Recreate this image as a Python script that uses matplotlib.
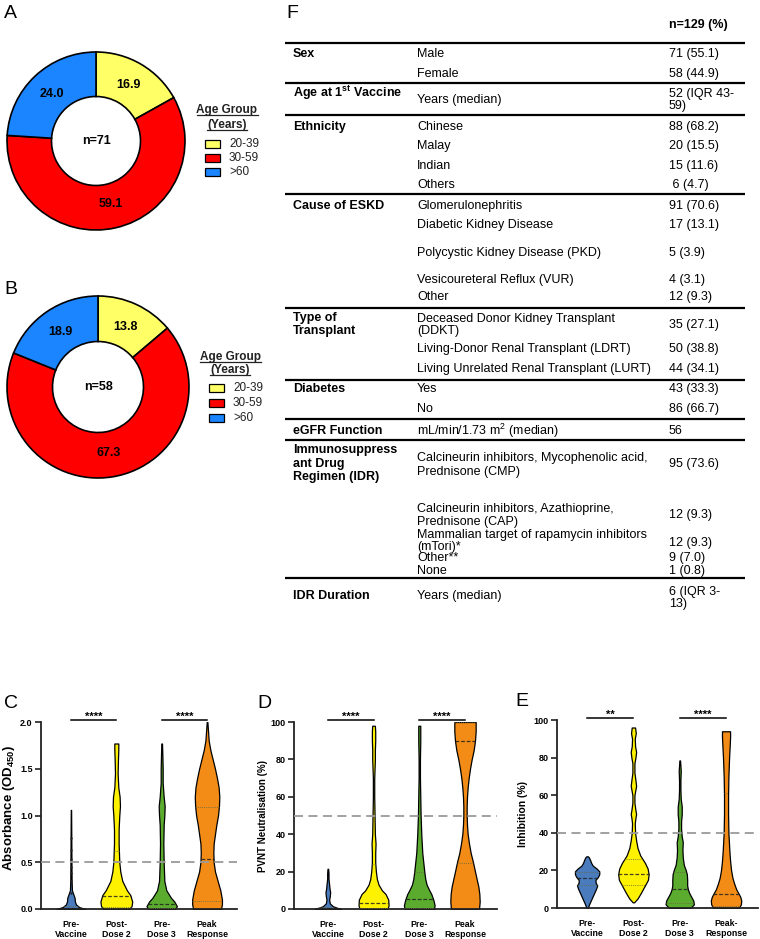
import numpy as np
import matplotlib
matplotlib.use('Agg')
import matplotlib.pyplot as plt
from matplotlib.patches import Rectangle
from matplotlib.transforms import blended_transform_factory

plt.rcParams['font.family'] = ['Liberation Sans', 'DejaVu Sans']
plt.rcParams['mathtext.fontset'] = 'custom'
plt.rcParams['mathtext.rm'] = 'Liberation Sans'
plt.rcParams['mathtext.it'] = 'Liberation Sans:italic'
plt.rcParams['mathtext.bf'] = 'Liberation Sans:bold'

#-----------------------------------------------------
# data: donuts
age_groups = ['20-39', '30-59', '>60']
pie_a_pct = [16.9, 59.1, 24.0]
pie_a_n = 71
pie_b_pct = [13.8, 67.3, 18.9]
pie_b_n = 58

# data: table F
table_header = 'n=129 (%)'
table_sections = ['Sex', 'Age at 1$^{\\mathbf{st}}$ Vaccine', 'Ethnicity', 'Cause of ESKD',
                  'Type of\nTransplant', 'Diabetes', 'eGFR Function',
                  'Immunosuppress\nant Drug\nRegimen (IDR)', 'IDR Duration']
table_items = [
    ['Male', 'Female'],
    ['Years (median)'],
    ['Chinese', 'Malay', 'Indian', 'Others'],
    ['Glomerulonephritis', 'Diabetic Kidney Disease', 'Polycystic Kidney Disease (PKD)',
     'Vesicoureteral Reflux (VUR)', 'Other'],
    ['Deceased Donor Kidney Transplant\n(DDKT)', 'Living-Donor Renal Transplant (LDRT)',
     'Living Unrelated Renal Transplant (LURT)'],
    ['Yes', 'No'],
    ['mL/min/1.73 m$^2$ (median)'],
    ['Calcineurin inhibitors, Mycophenolic acid,\nPrednisone (CMP)',
     'Calcineurin inhibitors, Azathioprine,\nPrednisone (CAP)',
     'Mammalian target of rapamycin inhibitors\n(mTori)*', 'Other**', 'None'],
    ['Years (median)'],
]
table_values = [
    ['71 (55.1)', '58 (44.9)'],
    ['52 (IQR 43-\n59)'],
    ['88 (68.2)', '20 (15.5)', '15 (11.6)', ' 6 (4.7)'],
    ['91 (70.6)', '17 (13.1)', '5 (3.9)', '4 (3.1)', '12 (9.3)'],
    ['35 (27.1)', '50 (38.8)', '44 (34.1)'],
    ['43 (33.3)', '86 (66.7)'],
    ['56'],
    ['95 (73.6)', '12 (9.3)', '12 (9.3)', '9 (7.0)', '1 (0.8)'],
    ['6 (IQR 3-\n13)'],
]

# data: violins (y level, relative half width), quartiles (Q1, median, Q3)
timepoints = ['Pre-\nVaccine', 'Post-\nDose 2', 'Pre-\nDose 3', 'Peak\nResponse']
timepoints_e = ['Pre-\nVaccine', 'Post-\nDose 2', 'Pre-\nDose 3', 'Peak-\nResponse']

c_pre_y = [0, 0.02, 0.05, 0.08, 0.12, 0.15, 0.2, 0.3, 0.5, 0.8, 1.06]
c_pre_w = [44, 25, 15, 12, 11, 8, 3, 2, 1.5, 1, 0.5]
c_post2_y = [0, 0.03, 0.08, 0.15, 0.2, 0.3, 0.4, 0.5, 0.6, 0.7, 0.85, 1.0, 1.1, 1.2, 1.3, 1.45, 1.6, 1.7, 1.77]
c_post2_w = [38, 46, 48, 42, 32, 18, 12, 9, 8, 7, 7, 9, 11, 10, 6, 4, 5, 6, 6]
c_pre3_y = [0, 0.03, 0.08, 0.12, 0.2, 0.3, 0.5, 0.7, 0.9, 1.0, 1.1, 1.2, 1.35, 1.5, 1.65, 1.77]
c_pre3_w = [40, 46, 38, 28, 14, 8, 6, 5, 6, 8, 9, 6, 3, 3, 2, 1]
c_peak_y = [0, 0.05, 0.1, 0.2, 0.3, 0.4, 0.5, 0.6, 0.7, 0.8, 0.9, 1.0, 1.1, 1.2, 1.3, 1.4, 1.5, 1.6, 1.7, 1.8, 1.9, 2.0]
c_peak_w = [42, 45, 45, 40, 32, 24, 20, 19, 20, 24, 28, 33, 36, 37, 35, 30, 24, 17, 10, 5, 3, 1]
c_quart = [(0.0, 0.01, 0.03), (0.02, 0.14, 0.62), (0.01, 0.05, 0.5), (0.09, 0.54, 1.09)]
c_pre_points = [0.17, 0.3, 0.38, 0.45, 0.54, 0.63, 0.76]

d_pre_y = [0, 0.5, 1.5, 3, 5, 7, 9, 11, 13, 16, 19, 21.5]
d_pre_w = [40, 30, 15, 6, 4, 6, 7, 5, 4, 2, 2, 1]
d_post2_y = [0, 2, 5, 8, 10, 13, 16, 20, 25, 30, 35, 40, 50, 60, 70, 80, 85, 90, 95, 98]
d_post2_w = [42, 45, 44, 36, 25, 15, 10, 7, 5, 5, 6, 4, 3, 2, 2, 4, 4, 5, 5, 4]
d_pre3_y = [0, 2, 5, 8, 10, 13, 16, 20, 25, 30, 40, 50, 60, 70, 80, 90, 98]
d_pre3_w = [44, 46, 42, 36, 30, 22, 18, 15, 12, 9, 6, 4, 3, 2, 2, 3, 3]
d_peak_y = [0, 4, 8, 12, 16, 20, 25, 30, 35, 40, 45, 50, 55, 60, 65, 70, 75, 80, 85, 90, 95, 100]
d_peak_w = [42, 44, 43, 40, 35, 30, 24, 17, 12, 8, 6, 5, 5, 6, 8, 11, 15, 20, 26, 30, 32, 32]
d_quart = [(0.0, 0.3, 1.0), (0.5, 3.4, 24), (0.5, 5.5, 20), (24.5, 90, 100)]

e_pre_y = [0, 2, 4, 6, 8, 10, 12, 13.5, 15, 16.5, 18, 19.5, 21, 22.5, 24, 25.5, 27, 27.5]
e_pre_w = [2, 6, 11, 16, 21, 26, 30, 25, 25, 32, 36, 36, 28, 17, 12, 9, 5, 2]
e_post2_y = [3, 5, 8, 10, 12, 15, 18, 21, 24, 26, 28, 32, 36, 40, 45, 48, 50, 52, 56, 60, 63, 65, 68,
             72, 77, 80, 83, 86, 90, 93, 96]
e_post2_w = [2, 12, 22, 28, 34, 43, 45, 42, 34, 27, 20, 12, 8, 5, 4, 6, 8, 6, 3, 3, 6, 8, 6,
             3, 3, 6, 8, 5, 4, 7, 5]
e_pre3_y = [0, 2, 4, 6, 8, 10, 12, 15, 18, 20, 23, 27, 31, 35, 38, 42, 46, 50, 54, 58, 63, 68, 73, 78.5]
e_pre3_w = [32, 42, 40, 34, 28, 24, 22, 22, 21, 18, 12, 9, 8, 9, 6, 4, 4, 6, 6, 3, 2, 2, 3, 1]
e_peak_y = [0, 2, 4, 6, 8, 10, 13, 16, 20, 25, 30, 40, 50, 60, 70, 80, 87, 91, 94]
e_peak_w = [38, 44, 45, 42, 36, 30, 24, 19, 15, 12, 10, 7, 6, 6, 7, 9, 11, 12, 12]
e_quart = [(12, 16, 19), (12, 18, 26), (2.7, 10, 19), (1, 7.4, 61)]

#-----------------------------------------------------
# styles
age_colors = ['#ffff66', '#ff0000', '#1b84ff']
vio_colors = ['#4a7bbd', '#fff200', '#5aab2e', '#f28c16']
WSCALE = 1 / 137.0
W, H = 760, 939

fig = plt.figure(figsize=(W / 100, H / 100), dpi=100)

def px_axes(x0, y0, x1, y1):
    return fig.add_axes([x0 / W, 1 - y1 / H, (x1 - x0) / W, (y1 - y0) / H])

ov = fig.add_axes([0, 0, 1, 1])
ov.set_xlim(0, W)
ov.set_ylim(H, 0)
ov.axis('off')

#-----------------------------------------------------
def donut(cx, cy, r, pct, n):
    m = 1.03
    ax = px_axes(cx - r * m, cy - r * m, cx + r * m, cy + r * m)
    wedges, _ = ax.pie(pct, colors=age_colors, startangle=90, counterclock=False, radius=1,
                       wedgeprops=dict(width=0.5, edgecolor='black', linewidth=1.2))
    for w, p in zip(wedges, pct):
        a = np.deg2rad((w.theta1 + w.theta2) / 2)
        ax.text(0.73 * np.cos(a), 0.73 * np.sin(a), '%.1f' % p, ha='center', va='center',
                fontweight='bold', fontsize=9)
    ax.text(0, 0, 'n=%i' % n, ha='center', va='center', fontweight='bold', fontsize=9)
    ax.set_xlim(-m, m)
    ax.set_ylim(-m, m)
    ax.set_aspect('equal')
    ax.axis('off')

def age_legend(xc, y_title, x_patch, y_rows):
    titles = []
    for txt, yy in zip(['Age Group', '(Years)'], y_title):
        titles.append(ov.text(xc, yy, txt, ha='center', va='center', fontweight='bold',
                              fontsize=8.5, color='#222222'))
    for lab, col, yy in zip(age_groups, age_colors, y_rows):
        ov.add_patch(Rectangle((x_patch, yy - 4), 15, 8, facecolor=col, edgecolor='black', lw=0.9))
        ov.text(x_patch + 24, yy, lab, ha='left', va='center', fontsize=8.5, color='#222222')
    return titles

donut(96, 141, 89, pie_a_pct, pie_a_n)
donut(98, 387, 91, pie_b_pct, pie_b_n)
under = age_legend(227, [110, 125], 205, [144, 158, 172])
under += age_legend(230, [357, 370], 209, [388, 403, 418])

for lab, x, y in [('A', 4, 14), ('B', 4, 290), ('F', 286, 13), ('C', 4, 703), ('D', 257, 704), ('E', 515, 702)]:
    ov.text(x, y, lab, ha='left', va='center', fontsize=14)

#-----------------------------------------------------
# table F
COL1, COL2, COL3 = 293, 417, 669
rule_y = [43, 83, 115, 194, 308, 380, 419, 440, 578]
sec_y = [54, 93, 127, 206, 324.5, 389, 431, 463.5, 596]
item_y = [[54, 74], [100], [127, 146, 166, 185], [206, 225, 253, 280, 297], [325, 349, 369],
          [389, 409], [431], [465, 515.5, 541, 558, 571], [596]]
value_y = [[54, 74], [100], [127, 146, 166, 185], [206, 225, 253, 280, 297], [325, 349, 369],
           [389, 409], [431], [464, 515, 543, 558, 571], [598]]
item_ls = [[1.1, 1.1], [1.1], [1.1] * 4, [1.1] * 5, [1.0, 1.1, 1.1], [1.1, 1.1], [1.1],
           [1.2, 1.2, 1.0, 1.1, 1.1], [1.1]]

ov.text(COL3, 25, table_header, ha='left', va='center', fontweight='bold', fontsize=9)
for yy in rule_y:
    ov.plot([285, 745], [yy, yy], color='black', lw=1.6, solid_capstyle='butt')
for s, sy, items, iy, ils, vals, vy in zip(table_sections, sec_y, table_items, item_y, item_ls,
                                           table_values, value_y):
    ov.text(COL1, sy, s, ha='left', va='center', fontweight='bold', fontsize=9, linespacing=1.15)
    for it, y1, ls in zip(items, iy, ils):
        ov.text(COL2, y1, it, ha='left', va='center', fontsize=9, linespacing=ls)
    for v, y2 in zip(vals, vy):
        ov.text(COL3, y2, v, ha='left', va='center', fontsize=9, linespacing=1.0)

#-----------------------------------------------------
def violin_panel(rect, xlim, ymax, yticks, yfmt, ylabel, ylsize, ylpos, profiles, quarts, thresh,
                 sigs, xlabels, points=None):
    ax = px_axes(*rect)
    ax.set_xlim(*xlim)
    ax.set_ylim(0, ymax)
    for i, ((ys, ws), q, col) in enumerate(zip(profiles, quarts, vio_colors)):
        ys = np.asarray(ys, float)
        hw = np.asarray(ws, float) * WSCALE
        ax.fill_betweenx(ys, i - hw, i + hw, facecolor=col, edgecolor='black', lw=0.9, zorder=2)
        for val, ls, c, lw in zip(q, [(0, (1, 1.2)), (0, (3, 1.5)), (0, (1, 1.2))],
                                  ['#6a6a40', '#222222', '#6a6a40'], [0.7, 0.9, 0.7]):
            w = np.interp(val, ys, hw)
            ax.plot([i - w, i + w], [val, val], ls=ls, color=c, lw=lw, zorder=3, alpha=0.85)
    if points is not None:
        ax.scatter(np.zeros(len(points)), points, s=3, color='#222222', zorder=4, lw=0)
    ax.axhline(thresh, color='#9a9a9a', ls=(0, (5, 3)), lw=1.3, zorder=4)
    for sp in ['top', 'right']:
        ax.spines[sp].set_visible(False)
    for sp in ['left', 'bottom']:
        ax.spines[sp].set_linewidth(1.3)
        ax.spines[sp].set_color('#222222')
    ax.set_yticks(yticks)
    ax.set_yticklabels([yfmt % v for v in yticks], fontweight='bold', fontsize=6.5)
    ax.tick_params(axis='y', length=4, width=1.2, pad=2, color='#222222')
    ax.set_xticks(range(4))
    ax.set_xticklabels(xlabels, fontweight='bold', fontsize=6.3, linespacing=1.1)
    ax.tick_params(axis='x', length=0, pad=8)
    ax.set_ylabel(ylabel, fontweight='bold', fontsize=ylsize)
    ax.yaxis.set_label_coords(*ylpos)
    tr = blended_transform_factory(ax.transData, ax.transAxes)
    for (a, b), s in sigs:
        ax.plot([a, b], [1.012, 1.012], color='black', lw=1.1, transform=tr, clip_on=False)
        ax.text((a + b) / 2, 1.0, s, ha='center', va='bottom', fontsize=8, fontweight='bold',
                transform=tr)
    return ax

violin_panel((41, 722, 237, 909), (-0.66, 3.66), 2.0, [0, 0.5, 1.0, 1.5, 2.0], '%.1f',
             'Absorbance (OD$_{\\mathbf{450}}$)', 9.5, (-0.122, 0.54),
             [(c_pre_y, c_pre_w), (c_post2_y, c_post2_w), (c_pre3_y, c_pre3_w), (c_peak_y, c_peak_w)],
             c_quart, 0.5, [((0, 1), '****'), ((2, 3), '****')], timepoints, points=c_pre_points)
violin_panel((294, 722, 497, 909), (-0.74, 3.70), 100, [0, 20, 40, 60, 80, 100], '%i',
             'PVNT Neutralisation (%)', 7, (-0.128, 0.5),
             [(d_pre_y, d_pre_w), (d_post2_y, d_post2_w), (d_pre3_y, d_pre3_w), (d_peak_y, d_peak_w)],
             d_quart, 50, [((0, 1), '****'), ((2, 3), '****')], timepoints)
violin_panel((557, 720, 758, 908), (-0.65, 3.69), 100, [0, 20, 40, 60, 80, 100], '%i',
             'Inhibition (%)', 7.5, (-0.144, 0.5),
             [(e_pre_y, e_pre_w), (e_post2_y, e_post2_w), (e_pre3_y, e_pre3_w), (e_peak_y, e_peak_w)],
             e_quart, 40, [((0, 1), '**'), ((2, 3), '****')], timepoints_e)

#-----------------------------------------------------
# underline legend titles
fig.canvas.draw()
renderer = fig.canvas.get_renderer()
inv = ov.transData.inverted()
for t in under:
    bb = t.get_window_extent(renderer)
    x0, y0 = inv.transform((bb.x0, bb.y0))
    x1, _ = inv.transform((bb.x1, bb.y0))
    ov.plot([x0, x1], [y0 - 0.5, y0 - 0.5], color='#222222', lw=0.9)

fig.savefig('out.png', dpi=100)
